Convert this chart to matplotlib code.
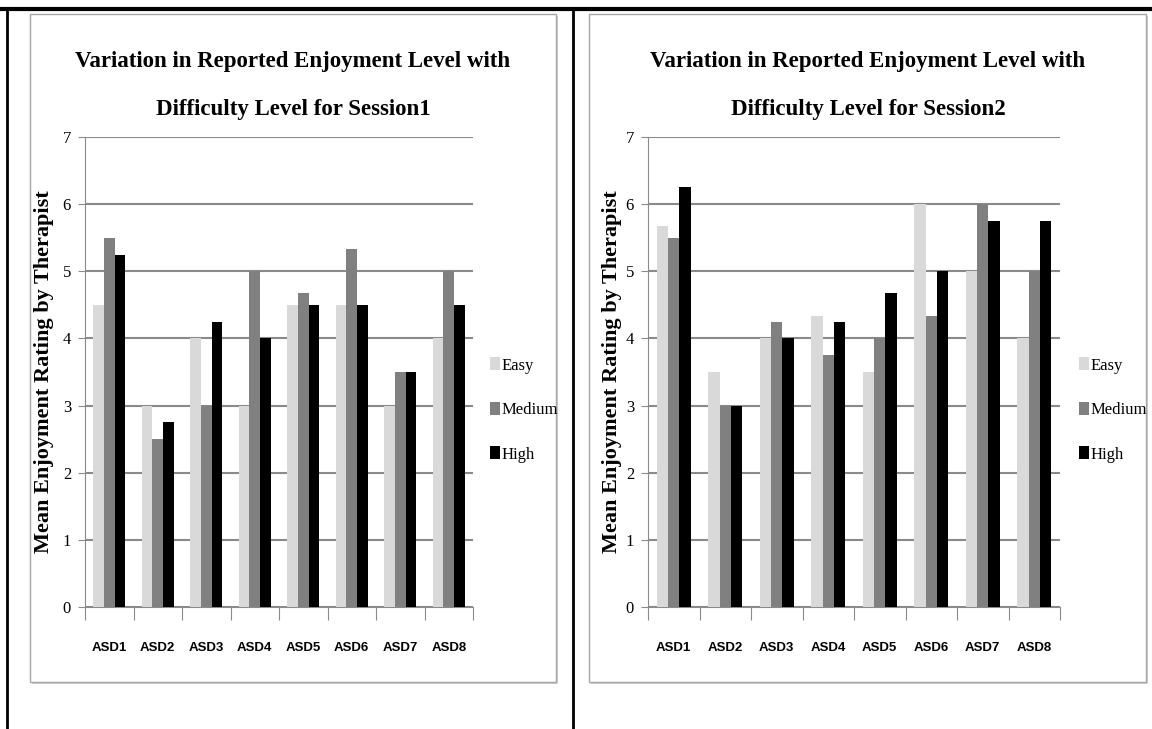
import matplotlib
matplotlib.use("Agg")
import matplotlib.pyplot as plt
import numpy as np
from matplotlib.patches import Rectangle, Patch
from matplotlib.lines import Line2D

# Данные: средняя оценка удовольствия по уровням сложности
participants = ["ASD1", "ASD2", "ASD3", "ASD4", "ASD5", "ASD6", "ASD7", "ASD8"]
levels = ["Easy", "Medium", "High"]

s1_easy   = [4.5, 3.0, 4.0, 3.0, 4.5, 4.5, 3.0, 4.0]
s1_medium = [5.5, 2.5, 3.0, 5.0, 4.67, 5.33, 3.5, 5.0]
s1_high   = [5.25, 2.75, 4.25, 4.0, 4.5, 4.5, 3.5, 4.5]

s2_easy   = [5.67, 3.5, 4.0, 4.33, 3.5, 6.0, 5.0, 4.0]
s2_medium = [5.5, 3.0, 4.25, 3.75, 4.0, 4.33, 6.0, 5.0]
s2_high   = [6.25, 3.0, 4.0, 4.25, 4.67, 5.0, 5.75, 5.75]

titles = [
    ("Variation in Reported Enjoyment Level with", "Difficulty Level for Session1"),
    ("Variation in Reported Enjoyment Level with", "Difficulty Level for Session2"),
]
Y_LABEL = "Mean Enjoyment Rating by Therapist"

COLORS = ["#d9d9d9", "#808080", "#000000"]
GRID = "#8a8a8a"
W, H = 1152, 729

SERIF = ["Liberation Serif", "DejaVu Serif"]
NARROW = ["Liberation Sans Narrow", "Liberation Sans", "DejaVu Sans"]


def fx(px):
    return px / W


def fy(py):
    return 1 - py / H


fig = plt.figure(figsize=(W / 100, H / 100), dpi=100)
fig.patch.set_facecolor("white")

# Рамка таблицы, в которую вставлены оба графика
fig.add_artist(Line2D([0, 1], [fy(9), fy(9)], color="black", lw=3))
fig.add_artist(Line2D([fx(7), fx(7)], [0, fy(9)], color="black", lw=2))
fig.add_artist(Line2D([fx(573), fx(573)], [0, fy(9)], color="black", lw=2))

# Рамки вокруг каждого графика (как в Excel)
for x0, x1 in [(30, 556), (589, 1146)]:
    fig.add_artist(Rectangle((fx(x0 + 2), fy(684)), fx(x1 - x0), fy(16) - fy(684),
                             facecolor="#d0d0d0", edgecolor="none", zorder=-3))
    fig.add_artist(Rectangle((fx(x0), fy(682)), fx(x1 - x0), fy(14) - fy(682),
                             facecolor="white", edgecolor="#a6a6a6", lw=1, zorder=-2))

# (левый край осей, правый край, центр заголовка, x легенды, x подписи оси Y) в пикселях
panels = [
    (85, 473, 293, 482, 54, [s1_easy, s1_medium, s1_high]),
    (648, 1060, 868, 1071, 622, [s2_easy, s2_medium, s2_high]),
]

x = np.arange(len(participants))
bw = 0.22

for (left, right, title_x, leg_x, lab_x, series), title in zip(panels, titles):
    ax = fig.add_axes([fx(left), fy(607), fx(right - left), fy(137) - fy(607)])
    ax.set_facecolor("none")

    for i, (vals, color, lbl) in enumerate(zip(series, COLORS, levels)):
        ax.bar(x + (i - 1) * bw, vals, width=bw, color=color, label=lbl, zorder=3)

    ax.set_xlim(-0.5, len(participants) - 0.5)
    ax.set_ylim(0, 7)
    ax.set_yticks(range(8))
    ax.yaxis.grid(True, color=GRID, lw=1.5)
    ax.set_axisbelow(True)

    for side in ["top", "right"]:
        ax.spines[side].set_visible(False)
    ax.spines["left"].set_color(GRID)
    ax.spines["bottom"].set_color(GRID)

    # Деления по оси X — на границах категорий, подписи — по центрам
    ax.set_xticks(np.arange(len(participants) + 1) - 0.5)
    ax.set_xticklabels([])
    ax.tick_params(axis="x", which="major", length=9, color=GRID, direction="out")
    ax.set_xticks(x, minor=True)
    ax.set_xticklabels(participants, minor=True, fontsize=9.5, fontweight="bold",
                       family=NARROW)
    ax.tick_params(axis="x", which="minor", length=0, pad=25)

    ax.tick_params(axis="y", length=5, color=GRID, pad=5)
    for t in ax.get_yticklabels():
        t.set_family(SERIF)
        t.set_fontsize(12)

    ax.set_ylabel(Y_LABEL, family=SERIF, fontweight="bold", fontsize=16)
    ax.yaxis.set_label_coords(-(left - lab_x) / (right - left), 0.5)

    for line, ypx in zip(title, [61, 110]):
        fig.text(fx(title_x), fy(ypx), line, ha="center", va="center", family=SERIF,
                 fontweight="bold", fontsize=16.5)

    handles = [Patch(facecolor=c, edgecolor="none") for c in COLORS]
    ax.legend(handles, levels, loc="center left",
              bbox_to_anchor=(fx(leg_x), fy(410)), bbox_transform=fig.transFigure,
              frameon=False, borderpad=0, handlelength=0.55, handleheight=0.8,
              handletextpad=0.15, labelspacing=1.7, prop={"family": SERIF, "size": 12})

fig.savefig("out.png", dpi=100)
